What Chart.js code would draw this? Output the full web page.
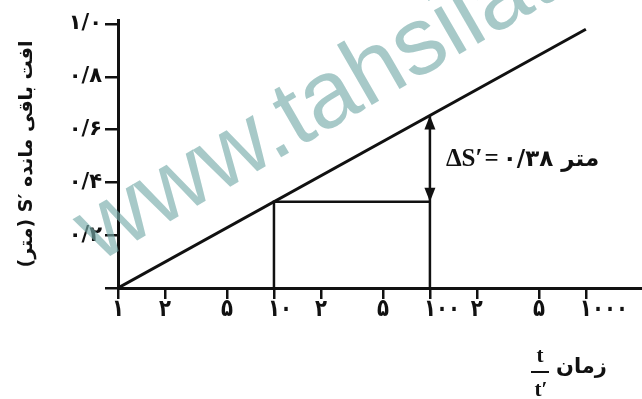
<!DOCTYPE html>
<html>
<head>
<meta charset="utf-8">
<script src="https://cdn.jsdelivr.net/npm/chart.js@4/dist/chart.umd.min.js"></script>
<style>
  body { margin: 0; background: #fff; }
  #wrap { width: 642px; height: 399px; position: relative; }
</style>
</head>
<body>
<div id="wrap"><canvas id="grafico"></canvas></div>
<script>
// dados do grafico (leitura da figura)
const xTicks = [1, 2, 5, 10, 20, 50, 100, 200, 500, 1000];
const xTickLabels = ['۱', '۲', '۵', '۱۰', '۲', '۵', '۱۰۰', '۲', '۵', '۱۰۰۰'];
const yTicks = [0, 0.2, 0.4, 0.6, 0.8, 1.0];
const yTickLabels = ['', '۰/۲', '۰/۴', '۰/۶', '۰/۸', '۱/۰'];
const lineT = [1, 1000];
const lineS = [0, 0.98];
const markT = [10, 100];
const markS = [0.327, 0.653];
const deltaLabel = '۰/۳۸';
const yTitle = 'افت باقی مانده S′\u200E (متر)';
const xTitle = 'زمان';

const preto = '#111';

// linha principal
let dadosLinha = lineT.map(function (t, i) { return { x: t, y: lineS[i] }; });
// guia: vertical em 10 e horizontal ate 100
let dadosGuia = [
    { x: markT[0], y: 0 },
    { x: markT[0], y: markS[0] },
    { x: markT[1], y: markS[0] }
];
// vertical em 100 (seta)
let dadosSeta = [
    { x: markT[1], y: 0 },
    { x: markT[1], y: markS[1] }
];

function seta(ctx, x, y, dir) {
    // dir = -1 aponta pra cima, 1 aponta pra baixo
    ctx.beginPath();
    ctx.moveTo(x, y);
    ctx.lineTo(x - 5.5, y - dir * 14);
    ctx.lineTo(x + 5.5, y - dir * 14);
    ctx.closePath();
    ctx.fill();
}

const extras = {
    id: 'extras',
    beforeDatasetsDraw(chart) {
        // marca d'agua (por baixo das linhas)
        const ctx = chart.ctx;
        ctx.save();
        ctx.translate(98, 263);
        ctx.rotate(-30 * Math.PI / 180);
        ctx.font = '96px "Liberation Sans"';
        ctx.fillStyle = 'rgba(120,172,170,0.65)';
        ctx.textBaseline = 'alphabetic';
        ctx.direction = 'ltr';
        ctx.textAlign = 'left';
        ctx.fillText('www.tahsilat.com', 0, 0);
        ctx.restore();
    },
    afterDatasetsDraw(chart) {
        const ctx = chart.ctx;
        const xs = chart.scales.x;
        const ys = chart.scales.y;
        ctx.save();
        ctx.fillStyle = preto;

        // setas
        let px = xs.getPixelForValue(markT[1]);
        seta(ctx, px, ys.getPixelForValue(markS[1]), -1);
        seta(ctx, px, ys.getPixelForValue(markS[0]), 1);

        // texto delta S'
        let yMeio = ys.getPixelForValue((markS[0] + markS[1]) / 2) + 1;
        ctx.direction = 'ltr';
        ctx.textBaseline = 'middle';
        ctx.textAlign = 'left';
        ctx.font = 'bold 25px "Liberation Serif"';
        let tx = px + 16;
        ctx.fillText('ΔS′', tx, yMeio);
        tx += ctx.measureText('ΔS′').width + 2;
        ctx.fillText('=', tx, yMeio);
        tx += ctx.measureText('=').width + 4;
        ctx.font = 'bold 23px "DejaVu Sans"';
        ctx.fillText(deltaLabel + ' متر', tx, yMeio);

        // rotulos do eixo x (um pouco estreitos, como no original)
        ctx.font = 'bold 24px "DejaVu Sans"';
        ctx.textBaseline = 'top';
        ctx.textAlign = 'left';
        const aperto = 0.82;
        for (let i = 0; i < xTicks.length; i++) {
            let lab = xTickLabels[i];
            let p = xs.getPixelForValue(xTicks[i]);
            let w1 = ctx.measureText(lab[0]).width * aperto;
            ctx.save();
            ctx.translate(p - w1 / 2, xs.top + 10);
            ctx.scale(aperto, 1);
            ctx.fillText(lab, 0, 0);
            ctx.restore();
        }

        // titulo do eixo x: zaman t/t'
        ctx.font = 'bold 21px "Liberation Serif"';
        ctx.textAlign = 'center';
        ctx.textBaseline = 'alphabetic';
        ctx.fillText('t', 540, 362);
        ctx.fillText('t′', 541, 396);
        ctx.fillRect(531, 371, 18, 2);
        ctx.direction = 'rtl';
        ctx.textAlign = 'left';
        ctx.textBaseline = 'middle';
        ctx.font = 'bold 21px "DejaVu Sans"';
        ctx.fillText(xTitle, 556, 368);
        ctx.restore();
    }
};

const config = {
    type: 'line',
    data: {
        datasets: [
            { data: dadosLinha, borderColor: preto, borderWidth: 3, pointRadius: 0 },
            { data: dadosGuia, borderColor: preto, borderWidth: 2.5, pointRadius: 0 },
            { data: dadosSeta, borderColor: preto, borderWidth: 2.5, pointRadius: 0 }
        ]
    },
    plugins: [extras],
    options: {
        responsive: true,
        maintainAspectRatio: false,
        animation: false,
        events: [],
        layout: { padding: { top: 20, right: 0, bottom: 0, left: 0 } },
        plugins: {
            legend: { display: false },
            tooltip: { enabled: false }
        },
        scales: {
            x: {
                type: 'logarithmic',
                min: 1,
                max: 2290,
                afterBuildTicks: function (scale) {
                    scale.ticks = xTicks.map(function (v) { return { value: v }; });
                },
                afterFit: function (scale) { scale.height = 111; },
                ticks: {
                    autoSkip: false,
                    maxRotation: 0,
                    color: 'rgba(0,0,0,0)',
                    callback: function () { return ''; }
                },
                grid: {
                    drawOnChartArea: false,
                    drawTicks: true,
                    tickLength: 11,
                    color: preto,
                    lineWidth: 2.5
                },
                border: { display: true, color: preto, width: 3 }
            },
            y: {
                type: 'linear',
                min: 0,
                max: 1.015,
                afterBuildTicks: function (scale) {
                    scale.ticks = yTicks.map(function (v) { return { value: v }; });
                },
                afterFit: function (scale) { scale.width = 118; },
                ticks: {
                    autoSkip: false,
                    padding: 3,
                    color: preto,
                    font: { family: 'DejaVu Sans', size: 21, weight: 'bold' },
                    callback: function (v, i) { return yTickLabels[i]; }
                },
                grid: {
                    drawOnChartArea: false,
                    drawTicks: true,
                    tickLength: 13,
                    color: preto,
                    lineWidth: 2.5
                },
                border: { display: true, color: preto, width: 3 },
                title: {
                    display: true,
                    text: '\u202B' + yTitle + '\u202C',
                    color: preto,
                    font: { family: 'DejaVu Sans', size: 19, weight: 'bold' },
                    padding: { top: 16, bottom: 0 }
                }
            }
        }
    }
};

let myChart = new Chart(document.getElementById('grafico'), config);
</script>
</body>
</html>
